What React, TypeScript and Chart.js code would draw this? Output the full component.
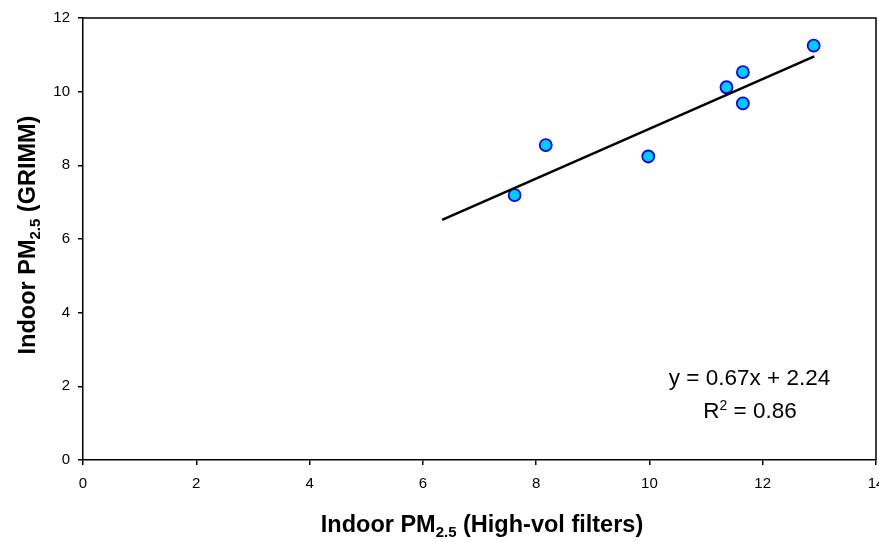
import React, { useEffect, useRef } from "react";
import { Chart, registerables } from "chart.js";

Chart.register(...registerables);

const xValues = [7.62, 8.17, 9.98, 11.36, 11.65, 11.65, 12.9];
const yValues = [7.19, 8.55, 8.24, 10.12, 10.53, 9.68, 11.25];
const slope = 0.67;
const intercept = 2.24;
const rSquared = 0.86;
const trendX = [6.34, 12.91];
const trendY = [6.52, 10.96];
const xTicks = [0, 2, 4, 6, 8, 10, 12, 14];
const yTicks = [0, 2, 4, 6, 8, 10, 12];

const FONT = "'Liberation Sans', Arial, sans-serif";

function drawSubText(
  ctx: CanvasRenderingContext2D,
  parts: { t: string; kind: "n" | "sub" | "sup" }[],
  size: number,
  smallSize: number,
  weight: string,
  cx: number,
  baseline: number
) {
  const widths = parts.map((p) => {
    ctx.font = `${weight} ${p.kind === "n" ? size : smallSize}px ${FONT}`;
    return ctx.measureText(p.t).width;
  });
  const total = widths.reduce((a, b) => a + b, 0);
  let x = cx - total / 2;
  ctx.textAlign = "left";
  ctx.textBaseline = "alphabetic";
  parts.forEach((p, i) => {
    ctx.font = `${weight} ${p.kind === "n" ? size : smallSize}px ${FONT}`;
    const dy = p.kind === "sub" ? size * 0.2 : p.kind === "sup" ? -size * 0.36 : 0;
    ctx.fillText(p.t, x, baseline + dy);
    x += widths[i];
  });
}

const labelsPlugin = {
  id: "labelsPlugin",
  afterDraw(chart: any) {
    const ctx: CanvasRenderingContext2D = chart.ctx;
    ctx.save();
    ctx.fillStyle = "#000";
    drawSubText(
      ctx,
      [
        { t: "Indoor PM", kind: "n" },
        { t: "2.5", kind: "sub" },
        { t: " (High-vol filters)", kind: "n" },
      ],
      23.5,
      15,
      "bold",
      482,
      532
    );
    ctx.save();
    ctx.translate(35, 235);
    ctx.rotate(-Math.PI / 2);
    drawSubText(
      ctx,
      [
        { t: "Indoor PM", kind: "n" },
        { t: "2.5", kind: "sub" },
        { t: " (GRIMM)", kind: "n" },
      ],
      23.5,
      15,
      "bold",
      0,
      0
    );
    ctx.restore();
    drawSubText(
      ctx,
      [{ t: `y = ${slope.toFixed(2)}x + ${intercept.toFixed(2)}`, kind: "n" }],
      22.5,
      14,
      "normal",
      749.5,
      385
    );
    drawSubText(
      ctx,
      [
        { t: "R", kind: "n" },
        { t: "2", kind: "sup" },
        { t: ` = ${rSquared.toFixed(2)}`, kind: "n" },
      ],
      22.5,
      14,
      "normal",
      750,
      418
    );
    ctx.restore();
  },
};

export default function App() {
  const ref = useRef<HTMLCanvasElement | null>(null);
  useEffect(() => {
    if (!ref.current) return;
    const chart = new Chart(ref.current, {
      type: "scatter",
      data: {
        datasets: [
          {
            type: "line",
            data: trendX.map((x, i) => ({ x, y: trendY[i] })),
            borderColor: "#000",
            borderWidth: 2.5,
            pointRadius: 0,
            fill: false,
          } as any,
          {
            data: xValues.map((x, i) => ({ x, y: yValues[i] })),
            backgroundColor: "#00CCFF",
            borderColor: "#0000EE",
            borderWidth: 1.8,
            pointRadius: 6,
          },
        ],
      },
      options: {
        responsive: false,
        animation: false,
        layout: { padding: { top: 18, right: 24, left: 0, bottom: 0 } },
        plugins: { legend: { display: false }, tooltip: { enabled: false } },
        scales: {
          x: {
            type: "linear",
            min: 0,
            max: 14,
            afterFit: (s: any) => {
              s.height = 82;
            },
            afterBuildTicks: (s: any) => {
              s.ticks = xTicks.map((v) => ({ value: v }));
            },
            ticks: {
              color: "#000",
              font: { family: FONT, size: 15 },
              padding: 10,
              maxRotation: 0,
            },
            grid: {
              drawOnChartArea: false,
              drawTicks: true,
              tickLength: 5,
              color: "#000",
              lineWidth: 1.5,
            },
            border: { color: "#000", width: 1.5 },
          },
          y: {
            type: "linear",
            min: 0,
            max: 12,
            afterFit: (s: any) => {
              s.width = 83;
            },
            afterBuildTicks: (s: any) => {
              s.ticks = yTicks.map((v) => ({ value: v }));
            },
            ticks: {
              color: "#000",
              font: { family: FONT, size: 15 },
              padding: 8,
            },
            grid: {
              drawOnChartArea: false,
              drawTicks: true,
              tickLength: 5,
              color: "#000",
              lineWidth: 1.5,
            },
            border: { color: "#000", width: 1.5 },
          },
        },
      } as any,
      plugins: [
        labelsPlugin,
        {
          id: "frame",
          afterDraw(chart: any) {
            const { ctx, chartArea: a } = chart;
            ctx.save();
            ctx.strokeStyle = "#000";
            ctx.lineWidth = 1.5;
            ctx.beginPath();
            ctx.moveTo(a.left, a.top);
            ctx.lineTo(a.right, a.top);
            ctx.lineTo(a.right, a.bottom);
            ctx.stroke();
            ctx.restore();
          },
        },
      ],
    });
    return () => chart.destroy();
  }, []);
  return (
    <div
      style={{
        position: "fixed",
        left: 0,
        top: 0,
        width: 879,
        height: 542,
        overflow: "hidden",
        background: "#fff",
      }}
    >
      <canvas ref={ref} width={900} height={542} style={{ width: 900, height: 542, display: "block" }} />
    </div>
  );
}
